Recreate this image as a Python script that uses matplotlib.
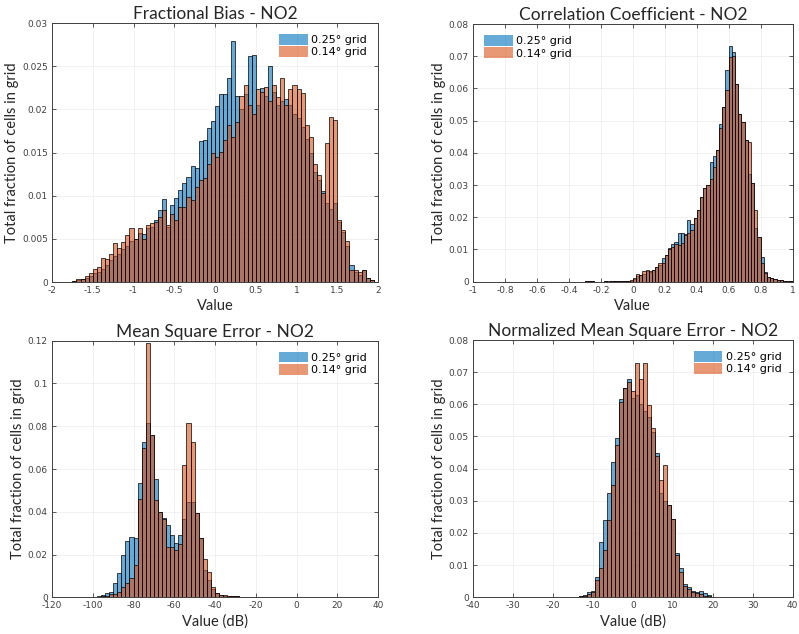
import numpy as np
import matplotlib
matplotlib.use('Agg')
import matplotlib.pyplot as plt
from matplotlib.ticker import FuncFormatter, MultipleLocator
from matplotlib.patches import Patch

# legend labels
grid_labels = ['0.25° grid', '0.14° grid']

# Fractional Bias: bins of 0.05 starting at -1.75
fb_start, fb_width = -1.75, 0.05
fb_025 = [0.0001, 0.0002, 0.0003, 0.0005, 0.0007, 0.0010, 0.0012, 0.0015, 0.0020, 0.0025,
          0.0030, 0.0033, 0.0038, 0.0042, 0.0047, 0.0050, 0.0057, 0.0056, 0.0062, 0.0064,
          0.0072, 0.0083, 0.0096, 0.0064, 0.0089, 0.0097, 0.0107, 0.0115, 0.0122, 0.0134,
          0.0132, 0.0163, 0.0165, 0.0178, 0.0187, 0.0204, 0.0218, 0.0218, 0.0236, 0.0279,
          0.0215, 0.0200, 0.0218, 0.0262, 0.0263, 0.0205, 0.0225, 0.0215, 0.0250, 0.0220,
          0.0205, 0.0210, 0.0212, 0.0205, 0.0195, 0.0190, 0.0180, 0.0166, 0.0150, 0.0128,
          0.0118, 0.0105, 0.0092, 0.0085, 0.0092, 0.0070, 0.0058, 0.0042, 0.0020, 0.0012,
          0.0008, 0.0014, 0.0005, 0.0002]
fb_014 = [0.0001, 0.0003, 0.0004, 0.0007, 0.0010, 0.0015, 0.0017, 0.0028, 0.0027, 0.0033,
          0.0045, 0.0039, 0.0046, 0.0054, 0.0062, 0.0050, 0.0063, 0.0050, 0.0066, 0.0068,
          0.0070, 0.0075, 0.0083, 0.0066, 0.0079, 0.0072, 0.0087, 0.0087, 0.0099, 0.0095,
          0.0110, 0.0118, 0.0120, 0.0137, 0.0149, 0.0145, 0.0151, 0.0165, 0.0182, 0.0168,
          0.0185, 0.0215, 0.0228, 0.0205, 0.0195, 0.0223, 0.0220, 0.0226, 0.0210, 0.0228,
          0.0214, 0.0236, 0.0205, 0.0223, 0.0228, 0.0223, 0.0219, 0.0182, 0.0168, 0.0137,
          0.0124, 0.0103, 0.0161, 0.0191, 0.0188, 0.0072, 0.0060, 0.0048, 0.0014, 0.0014,
          0.0012, 0.0014, 0.0005, 0.0002]

# Correlation Coefficient: bins of 0.02 starting at -0.3
cc_start, cc_width = -0.3, 0.02
cc_025 = [0.0002, 0.0001, 0.0001, 0.0, 0.0, 0.0, 0.0001, 0.0, 0.0001, 0.0001,
          0.0002, 0.0001, 0.0001, 0.0002, 0.0003, 0.0008, 0.0018, 0.0020, 0.0025, 0.0034,
          0.0030, 0.0036, 0.0046, 0.0052, 0.0075, 0.0083, 0.0104, 0.0118, 0.0122, 0.0152,
          0.0150, 0.0148, 0.0192, 0.0178, 0.0197, 0.0222, 0.0264, 0.0290, 0.0300, 0.0373,
          0.0390, 0.0409, 0.0490, 0.0541, 0.0657, 0.0733, 0.0712, 0.0615, 0.0520, 0.0497,
          0.0440, 0.0335, 0.0305, 0.0166, 0.0140, 0.0078, 0.0031, 0.0016, 0.0011, 0.0009,
          0.0006, 0.0004, 0.0003, 0.0002, 0.0001]
cc_014 = [0.0003, 0.0001, 0.0001, 0.0, 0.0, 0.0, 0.0001, 0.0001, 0.0001, 0.0001,
          0.0003, 0.0001, 0.0002, 0.0002, 0.0004, 0.0012, 0.0024, 0.0022, 0.0034, 0.0036,
          0.0032, 0.0037, 0.0047, 0.0057, 0.0058, 0.0082, 0.0100, 0.0108, 0.0117, 0.0114,
          0.0120, 0.0145, 0.0152, 0.0162, 0.0197, 0.0222, 0.0264, 0.0290, 0.0300, 0.0320,
          0.0357, 0.0409, 0.0476, 0.0541, 0.0595, 0.0697, 0.0700, 0.0615, 0.0520, 0.0497,
          0.0440, 0.0435, 0.0305, 0.0222, 0.0140, 0.0057, 0.0028, 0.0014, 0.0010, 0.0007,
          0.0005, 0.0004, 0.0003, 0.0002, 0.0001]

# Mean Square Error (dB): bins of 2 starting at -100
mse_start, mse_width = -100, 2
mse_025 = [0.0003, 0.0006, 0.0012, 0.0022, 0.0026, 0.0065, 0.0112, 0.0198, 0.0262, 0.0284,
           0.0276, 0.0533, 0.0728, 0.0813, 0.0759, 0.0552, 0.0400, 0.0370, 0.0338, 0.0290,
           0.0256, 0.0290, 0.0365, 0.0447, 0.0447, 0.0393, 0.0276, 0.0128, 0.0080, 0.0040,
           0.0020, 0.0011, 0.0008, 0.0006, 0.0005, 0.0004, 0.0003, 0.0002, 0.0001, 0.0001]
mse_014 = [0.0001, 0.0002, 0.0004, 0.0006, 0.0014, 0.0015, 0.0025, 0.0050, 0.0065, 0.0089,
           0.0150, 0.0460, 0.0697, 0.1187, 0.0759, 0.0455, 0.0400, 0.0365, 0.0237, 0.0237,
           0.0221, 0.0250, 0.0619, 0.0813, 0.0728, 0.0393, 0.0276, 0.0180, 0.0120, 0.0050,
           0.0019, 0.0011, 0.0009, 0.0006, 0.0005, 0.0004, 0.0003, 0.0002, 0.0001, 0.0001]

# Normalized Mean Square Error (dB): bins of 1 starting at -14.5
nmse_start, nmse_width = -14.5, 1
nmse_025 = [0.0002, 0.0004, 0.0007, 0.0015, 0.0021, 0.0062, 0.0173, 0.0240, 0.0323, 0.0422,
            0.0494, 0.0616, 0.0652, 0.0680, 0.0620, 0.0630, 0.0600, 0.0580, 0.0560, 0.0515,
            0.0448, 0.0323, 0.0300, 0.0287, 0.0243, 0.0137, 0.0090, 0.0041, 0.0033, 0.0020,
            0.0018, 0.0020, 0.0013, 0.0007]
nmse_014 = [0.0001, 0.0003, 0.0004, 0.0010, 0.0018, 0.0054, 0.0090, 0.0147, 0.0240, 0.0350,
            0.0474, 0.0608, 0.0650, 0.0670, 0.0640, 0.0727, 0.0680, 0.0727, 0.0598, 0.0525,
            0.0440, 0.0365, 0.0410, 0.0287, 0.0243, 0.0130, 0.0080, 0.0035, 0.0025, 0.0015,
            0.0013, 0.0010, 0.0005, 0.0003]

blue = (0, 0.447, 0.741, 0.6)
orange = (0.85, 0.325, 0.098, 0.6)


def hist_panel(ax, start, width, v025, v014, title, xlabel, xlim, xstep, ylim, ystep,
               legend_loc='upper right'):
    edges = start + width * np.arange(len(v025))
    ax.bar(edges, v025, width=width, align='edge', color=blue, edgecolor='black', linewidth=0.5)
    ax.bar(edges, v014, width=width, align='edge', color=orange, edgecolor='black', linewidth=0.5)
    ax.set_xlim(xlim)
    ax.set_ylim(ylim)
    ax.xaxis.set_major_locator(MultipleLocator(xstep))
    ax.yaxis.set_major_locator(MultipleLocator(ystep))
    fmt = FuncFormatter(lambda v, p: '{:g}'.format(round(v, 6)))
    ax.xaxis.set_major_formatter(fmt)
    ax.yaxis.set_major_formatter(fmt)
    ax.tick_params(direction='in', top=True, right=True, length=3, width=0.6,
                   labelsize=6.5, labelcolor='#404040', color='#404040', pad=3)
    ax.grid(True, color='#ececec', linewidth=0.5)
    ax.set_axisbelow(True)
    for s in ax.spines.values():
        s.set_color('#404040')
        s.set_linewidth(0.7)
    ax.set_title(title, family='Lato', fontsize=12.5, color='#262626', pad=3)
    ax.set_xlabel(xlabel, family='Lato', fontsize=10.5, color='#262626', labelpad=3)
    ax.set_ylabel('Total fraction of cells in grid', family='Lato', fontsize=10.5,
                  color='#262626', labelpad=2)
    handles = [Patch(facecolor=blue, edgecolor='none'), Patch(facecolor=orange, edgecolor='none')]
    ax.legend(handles, grid_labels, loc=legend_loc, frameon=False, fontsize=8,
              handlelength=2.6, handleheight=1.1, handletextpad=0.3, labelspacing=0.1,
              borderaxespad=0.6)


fig = plt.figure(figsize=(7.99, 6.34), dpi=100)
ax1 = fig.add_axes([0.0651, 0.5552, 0.408, 0.4085])
ax2 = fig.add_axes([0.592, 0.5557, 0.4, 0.4063])
ax3 = fig.add_axes([0.0651, 0.0579, 0.408, 0.4047])
ax4 = fig.add_axes([0.592, 0.0579, 0.4, 0.4058])

hist_panel(ax1, fb_start, fb_width, fb_025, fb_014, 'Fractional Bias - NO2', 'Value',
           (-2, 2), 0.5, (0, 0.03), 0.005)
hist_panel(ax2, cc_start, cc_width, cc_025, cc_014, 'Correlation Coefficient - NO2', 'Value',
           (-1, 1), 0.2, (0, 0.08), 0.01, legend_loc='upper left')
hist_panel(ax3, mse_start, mse_width, mse_025, mse_014, 'Mean Square Error - NO2', 'Value (dB)',
           (-120, 40), 20, (0, 0.12), 0.02)
hist_panel(ax4, nmse_start, nmse_width, nmse_025, nmse_014, 'Normalized Mean Square Error - NO2',
           'Value (dB)', (-40, 40), 10, (0, 0.08), 0.01)

fig.savefig('out.png', dpi=100)
